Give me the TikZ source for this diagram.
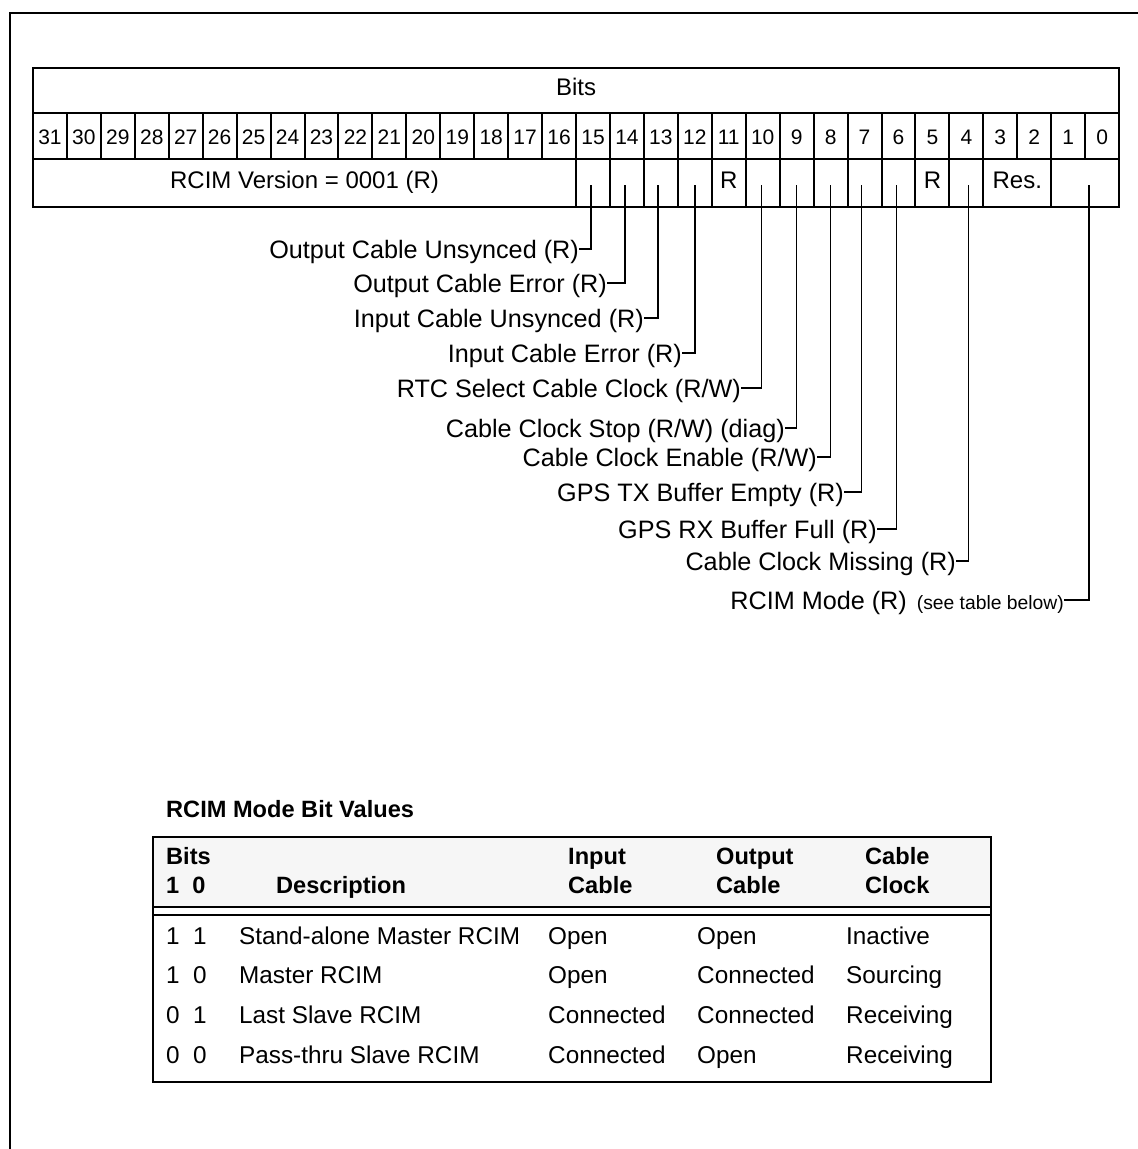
\documentclass[tikz,border=0pt]{standalone}
\usepackage{fontspec}
\setmainfont{Liberation Sans}
\definecolor{hdrgray}{RGB}{246,246,246}

\begin{document}
\begin{tikzpicture}[x=1pt,y=-1pt,
        every node/.style={inner sep=0pt},
        frame/.style={line width=2pt},
        leader/.style={line width=1.5pt},
        numtext/.style={font=\fontsize{21}{25}\selectfont,anchor=base},
        celltext/.style={font=\fontsize{24}{28}\selectfont,anchor=base},
        bitlabel/.style={font=\fontsize{25.2}{30}\selectfont,anchor=east,text height=22pt,text depth=4pt},
        hdrtext/.style={font=\fontsize{23.6}{28}\selectfont\bfseries,anchor=base west},
        rowtext/.style={font=\fontsize{24.3}{28}\selectfont,anchor=base west}]

        \useasboundingbox (0,0) rectangle (1138,1149);

        % draw the outer frame
        \draw[frame] (9.5,1149) -- (9.5,12.5) -- (1138,12.5);

        % draw the bit table
        \draw[frame] (33,68) rectangle (1119,207);
        \draw[frame] (33,113) -- (1119,113);
        \draw[frame] (33,159) -- (1119,159);
        \node[celltext] (bits) at (576,95) {Bits};

        \foreach \b in {0,...,31} {
                % cell borders and bit numbers
                \draw[frame] ({33+(31-\b)*33.94},113) -- ({33+(31-\b)*33.94},159);
                \node[numtext] (n\b) at ({33+(31.5-\b)*33.94},144) {\b};
        }

        % field borders
        \foreach \b in {15,14,...,3,1}
                \draw[frame] ({33+(31-\b)*33.94},159) -- ({33+(31-\b)*33.94},207);

        \node[celltext] (ver) at ({33+8*33.94},188) {RCIM Version = 0001 (R)};
        \node[celltext] (r11) at ({33+20.5*33.94},188) {R};
        \node[celltext] (r5) at ({33+26.5*33.94},188) {R};
        \node[celltext] (res) at ({33+29*33.94},188) {Res.};

        % tap points in the cells
        \foreach \b/\dx in {15/-2,14/-2,13/-3,12/0,10/-1,9/0,8/0,7/-3,6/-2,4/2,0/-13}
                \coordinate (t\b) at ({33+(31.5-\b)*33.94+\dx},185);

        % bit labels
        \node[bitlabel] (l15) at (579,249) {Output Cable Unsynced (R)};
        \node[bitlabel] (l14) at (607,283) {Output Cable Error (R)};
        \node[bitlabel] (l13) at (644,318) {Input Cable Unsynced (R)};
        \node[bitlabel] (l12) at (682,353) {Input Cable Error (R)};
        \node[bitlabel] (l10) at (741,388) {RTC Select Cable Clock (R/W)};
        \node[bitlabel] (l9) at (785,428) {Cable Clock Stop (R/W) (diag)};
        \node[bitlabel] (l8) at (817,457) {Cable Clock Enable (R/W)};
        \node[bitlabel] (l7) at (844,492) {GPS TX Buffer Empty (R)};
        \node[bitlabel] (l6) at (877,529) {GPS RX Buffer Full (R)};
        \node[bitlabel] (l4) at (956,561) {Cable Clock Missing (R)};
        \node[bitlabel] (l0) at (1064,600) {RCIM Mode (R)\hspace{10pt}{\fontsize{19.3}{22}\selectfont(see table below)}};

        \foreach \b in {15,14,13,12,10,9,8,7,6,4,0}
                \draw[leader] (t\b) |- (l\b.east);

        % draw the mode table
        \node[hdrtext] (title) at (166,817) {RCIM Mode Bit Values};
        \fill[hdrgray] (153,837) rectangle (991,907);
        \draw[frame] (153,837) rectangle (991,1082);
        \draw[frame] (153,907) -- (991,907);
        \draw[frame] (153,915) -- (991,915);

        \node[hdrtext] (hbits) at (166,864) {Bits};
        \node[hdrtext] (hnum) at (166,893) {1\ \ 0};
        \node[hdrtext] (hdesc) at (276,893) {Description};
        \node[hdrtext] (hin1) at (568,864) {Input};
        \node[hdrtext] (hin2) at (568,893) {Cable};
        \node[hdrtext] (hout1) at (716,864) {Output};
        \node[hdrtext] (hout2) at (716,893) {Cable};
        \node[hdrtext] (hclk1) at (865,864) {Cable};
        \node[hdrtext] (hclk2) at (865,893) {Clock};

        \foreach \y/\ba/\bc/\desc/\inp/\outp/\clk [count=\i] in {
                944/1/1/Stand-alone Master RCIM/Open/Open/Inactive,
                983/1/0/Master RCIM/Open/Connected/Sourcing,
                1023/0/1/Last Slave RCIM/Connected/Connected/Receiving,
                1063/0/0/Pass-thru Slave RCIM/Connected/Open/Receiving} {
                \node[rowtext] (bits\i) at (166,\y) {\ba\ \ \bc};
                \node[rowtext] (desc\i) at (239,\y) {\desc};
                \node[rowtext] (in\i) at (548,\y) {\inp};
                \node[rowtext] (out\i) at (697,\y) {\outp};
                \node[rowtext] (clk\i) at (846,\y) {\clk};
        }

\end{tikzpicture}
\end{document}
